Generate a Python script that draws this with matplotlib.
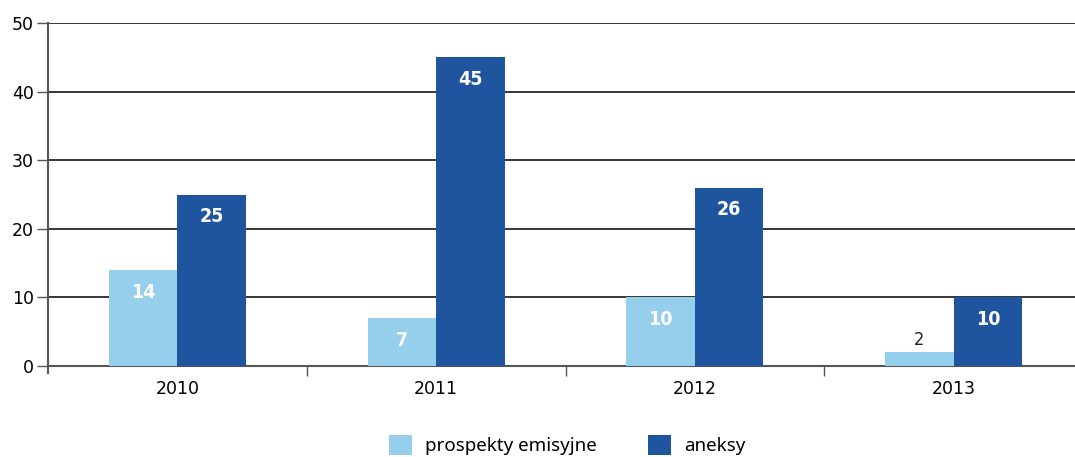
import matplotlib.pyplot as plt
import numpy as np

years = ['2010', '2011', '2012', '2013']
prospekty = [14, 7, 10, 2]
aneksy = [25, 45, 26, 10]
series_names = ['prospekty emisyjne', 'aneksy']

light = '#96cfec'
dark = '#1f559e'

fig = plt.figure(figsize=(10.75, 4.57), dpi=100)
ax = fig.add_axes([48 / 1075, 1 - 366 / 457, 1035 / 1075, 343 / 457])

x = np.arange(len(years))
w = 0.265
b1 = ax.bar(x - w / 2, prospekty, w, color=light, label=series_names[0], zorder=3)
b2 = ax.bar(x + w / 2, aneksy, w, color=dark, label=series_names[1], zorder=3)

# condensed labels inside the bars
for bars, vals in ((b1, prospekty), (b2, aneksy)):
    for r, v in zip(bars, vals):
        cx = r.get_x() + r.get_width() / 2
        if v < 5:
            ax.annotate(str(v), (cx, v), xytext=(0, 9), textcoords='offset points',
                        ha='center', va='center', fontsize=13, color='#222222',
                        family='DejaVu Sans', fontstretch='condensed')
        else:
            ax.annotate(str(v), (cx, v), xytext=(0, -16), textcoords='offset points',
                        ha='center', va='center', fontsize=14, color='white',
                        fontweight='bold', family='DejaVu Sans', fontstretch='condensed')

ax.set_xlim(-0.5, len(years) - 0.5)
ax.set_ylim(0, 50)
ax.set_yticks([0, 10, 20, 30, 40, 50])
ax.yaxis.grid(True, color='black', linewidth=1.1, zorder=0)
ax.set_axisbelow(True)

ax.set_xticks(x)
ax.set_xticklabels(years, fontsize=12.5)
ax.set_xticks(np.arange(1, len(years)) - 0.5, minor=True)
ax.tick_params(axis='x', which='major', length=0, pad=10)
ax.tick_params(axis='x', which='minor', length=7, color='#555555', width=1)
ax.tick_params(axis='y', labelsize=12.5, length=8, color='#555555', width=1, pad=2)

for s in ['top', 'right']:
    ax.spines[s].set_visible(False)
ax.spines['left'].set_color('#555555')
ax.spines['left'].set_linewidth(1.5)
ax.spines['left'].set_bounds(-1, 50)
ax.spines['bottom'].set_color('#555555')
ax.spines['bottom'].set_linewidth(1.5)

fig.legend(handles=[b1, b2], labels=series_names, loc='center', bbox_to_anchor=(567 / 1075, 1 - 445 / 457),
           ncol=2, frameon=False, handlelength=1.25, handleheight=1.25, handletextpad=0.7,
           columnspacing=2.7, prop={'family': 'Noto Sans', 'size': 13.5})

fig.savefig('out.png', dpi=100)
